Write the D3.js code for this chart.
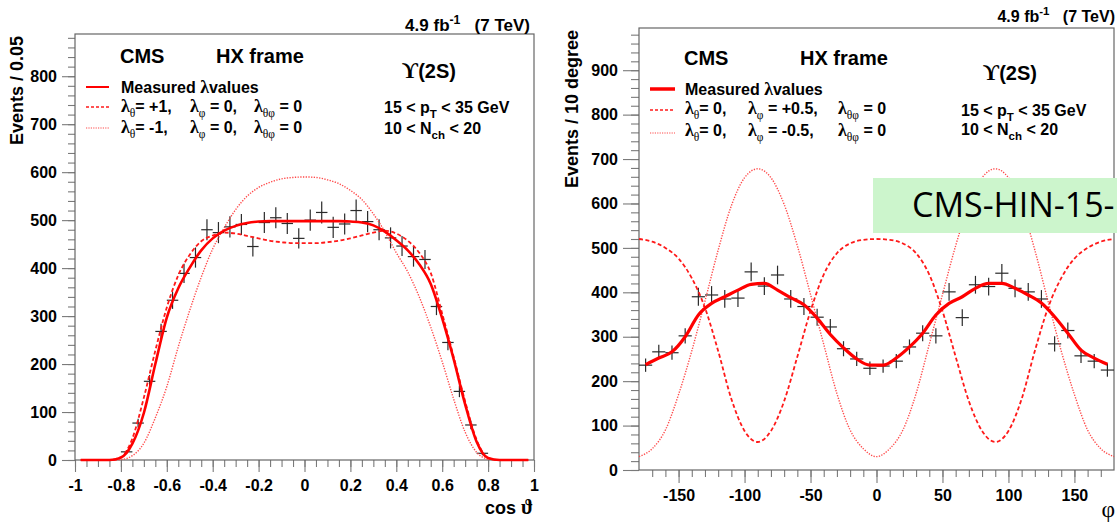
<!DOCTYPE html>
<html>
<head>
<meta charset="utf-8">
<script src="https://cdn.jsdelivr.net/npm/d3@7"></script>
<style>
body { margin: 0; background: #fff; }
svg text { font-family: "Liberation Sans", Arial, sans-serif; font-weight: bold; fill: #000; }
</style>
</head>
<body>
<script>
// left panel: cos theta
var cosBins = [-0.775, -0.725, -0.675, -0.625, -0.575, -0.525, -0.475, -0.425, -0.375, -0.325, -0.275, -0.225, -0.175, -0.125, -0.075, -0.025,
  0.025, 0.075, 0.125, 0.175, 0.225, 0.275, 0.325, 0.375, 0.425, 0.475, 0.525, 0.575, 0.625, 0.675, 0.725, 0.775];
var cosCounts = [17, 77, 164, 268, 333, 389, 422, 480, 474, 486, 491, 445, 495, 505, 493, 462,
  500, 516, 485, 492, 520, 497, 480, 463, 446, 424, 418, 320, 245, 143, 73, 14];
var cosErrs = [4, 9, 13, 16, 18, 20, 21, 22, 22, 22, 22, 21, 22, 22, 22, 21,
  22, 23, 22, 22, 23, 22, 22, 22, 21, 21, 20, 18, 16, 12, 9, 4];

var cosGrid = [-0.975, -0.85, -0.8, -0.75, -0.7, -0.65, -0.6, -0.55, -0.5, -0.45, -0.4, -0.35, -0.3, -0.25, -0.2, -0.15, -0.1, -0.05, 0,
  0.05, 0.1, 0.15, 0.2, 0.25, 0.3, 0.35, 0.4, 0.45, 0.5, 0.55, 0.6, 0.65, 0.7, 0.75, 0.8, 0.85, 0.975];
var cosMeasured = [0, 0, 5, 34, 98, 200, 297, 358, 401, 437, 462, 478, 488, 494, 497, 498, 498, 498, 498,
  498, 498, 498, 497, 495, 489, 476, 458, 437, 408, 367, 295, 210, 116, 38, 4, 0, 0];
var cosPlus = [0, 0, 6, 45, 130, 228, 318, 385, 428, 456, 468, 474, 472, 467, 462, 457, 454, 452, 452,
  452, 454, 457, 462, 468, 474, 478, 472, 457, 432, 390, 305, 215, 122, 42, 4, 0, 0];
var cosMinus = [0, 0, 1, 9, 35, 88, 153, 236, 312, 381, 440, 484, 522, 550, 568, 579, 586, 589, 590,
  589, 584, 576, 562, 543, 513, 476, 432, 392, 340, 277, 205, 127, 58, 16, 2, 0, 0];

var cosTicks = [-1, -0.8, -0.6, -0.4, -0.2, 0, 0.2, 0.4, 0.6, 0.8, 1];
var cosTickLabels = ['-1', '-0.8', '-0.6', '-0.4', '-0.2', '0', '0.2', '0.4', '0.6', '0.8', '1'];
var cosYTicks = [0, 100, 200, 300, 400, 500, 600, 700, 800];
var cosYTickLabels = ['0', '100', '200', '300', '400', '500', '600', '700', '800'];

// right panel: phi
var phiBins = [-175, -165, -155, -145, -135, -125, -115, -105, -95, -85, -75, -65, -55, -45, -35, -25, -15, -5,
  5, 15, 25, 35, 45, 55, 65, 75, 85, 95, 105, 115, 125, 135, 145, 155, 165, 175];
var phiCounts = [236, 266, 264, 302, 390, 394, 385, 387, 446, 414, 439, 385, 368, 344, 322, 273, 250, 229,
  234, 245, 277, 308, 302, 401, 343, 417, 413, 443, 409, 401, 385, 284, 314, 257, 245, 225];
var phiErrs = [15, 16, 16, 17, 20, 20, 20, 20, 21, 20, 21, 20, 19, 19, 18, 17, 16, 15,
  15, 16, 17, 18, 17, 20, 19, 20, 20, 21, 20, 20, 20, 17, 18, 16, 16, 15];
var phiMeasured = [237, 252, 266, 300, 349, 375, 390, 405, 418, 420, 405, 388, 372, 342, 305, 275, 250, 236,
  236, 252, 277, 308, 349, 375, 390, 409, 420, 420, 409, 394, 376, 345, 308, 270, 252, 238];

var phiGrid = [-180, -170, -160, -150, -140, -130, -120, -110, -100, -90, -80, -70, -60, -50, -40, -30, -20, -10, 0,
  10, 20, 30, 40, 50, 60, 70, 80, 90, 100, 110, 120, 130, 140, 150, 160, 170, 180];
var phiPlus = [520, 514, 500, 476, 432, 365, 268, 160, 88, 63, 88, 155, 255, 358, 440, 488, 510, 518, 520,
  518, 510, 488, 440, 358, 255, 155, 88, 63, 88, 160, 268, 365, 432, 476, 500, 514, 520];
var phiMinus = [30, 48, 90, 170, 268, 380, 495, 595, 658, 678, 658, 598, 505, 395, 283, 172, 90, 48, 30,
  48, 90, 172, 283, 395, 505, 598, 658, 678, 658, 595, 495, 380, 268, 170, 90, 48, 30];

var phiTicks = [-150, -100, -50, 0, 50, 100, 150];
var phiTickLabels = ['-150', '-100', '-50', '0', '50', '100', '150'];
var phiYTicks = [0, 100, 200, 300, 400, 500, 600, 700, 800, 900];
var phiYTickLabels = ['0', '100', '200', '300', '400', '500', '600', '700', '800', '900'];

var serif = '"Liberation Serif", "DejaVu Serif", serif';

var svg = d3.select('body').append('svg').attr('width', 1117).attr('height', 525);
svg.append('rect').attr('width', 1117).attr('height', 525).attr('fill', '#fff');

// text with sub/superscripts and greek letters
var rich = function(sel, x, y, size, parts, anchor) {
  var t = sel.append('text').attr('x', x).attr('y', y).attr('font-size', size)
    .attr('text-anchor', anchor || 'start');
  var shift = 0;
  parts.forEach(function(p) {
    var s = p[1] || '';
    var target = s.indexOf('sub') >= 0 ? 0.32 * size : (s.indexOf('sup') >= 0 ? -0.42 * size : 0);
    var ts = t.append('tspan').text(p[0]).attr('dy', target - shift);
    shift = target;
    if (target !== 0) ts.attr('font-size', size * 0.72);
    if (s.indexOf('g') === 0) ts.style('font-family', serif);
    if (s === 'g') ts.attr('font-size', size * 1.12);
    if (s === 'gsub') ts.style('font-weight', 'normal');
  });
  return t;
};

var drawAxes = function(g, x, y, o) {
  var y0 = y.range()[0], x0 = x.range()[0];
  g.append('g').attr('transform', 'translate(0,' + y0 + ')')
    .call(d3.axisBottom(x).tickValues(o.xMinor).tickSize(o.xMinorLen).tickFormat(''));
  g.append('g').attr('transform', 'translate(0,' + y0 + ')')
    .call(d3.axisBottom(x).tickValues(o.xMajor).tickSize(o.xMajorLen).tickPadding(o.xPad)
      .tickFormat(function(d, i) { return o.xLabels[i]; }));
  g.append('g').attr('transform', 'translate(' + x0 + ',0)')
    .call(d3.axisLeft(y).tickValues(o.yMinor).tickSize(o.yMinorLen).tickFormat(''));
  g.append('g').attr('transform', 'translate(' + x0 + ',0)')
    .call(d3.axisLeft(y).tickValues(o.yMajor).tickSize(o.yMajorLen).tickPadding(o.yPad)
      .tickFormat(function(d, i) { return o.yLabels[i]; }));
  g.selectAll('.domain').remove();
  g.selectAll('.tick line').attr('stroke', '#7a7a7a').attr('stroke-width', 1.1);
  g.selectAll('.tick text').attr('font-size', 16).attr('fill', '#000')
    .style('font-family', '"Liberation Sans", Arial, sans-serif').style('font-weight', 'bold');
  g.append('rect')
    .attr('x', x.range()[0]).attr('y', y.range()[1])
    .attr('width', x.range()[1] - x.range()[0]).attr('height', y.range()[0] - y.range()[1])
    .attr('fill', 'none').attr('stroke', '#666').attr('stroke-width', 1.2);
};

var drawPoints = function(g, x, y, bins, counts, errs, half) {
  var pts = g.append('g').selectAll('g').data(bins).enter().append('g');
  pts.append('line')
    .attr('x1', function(d) { return x(d - half); })
    .attr('x2', function(d) { return x(d + half); })
    .attr('y1', function(d, i) { return y(counts[i]); })
    .attr('y2', function(d, i) { return y(counts[i]); })
    .attr('stroke', '#2a2a2a').attr('stroke-width', 1.2);
  pts.append('line')
    .attr('x1', function(d) { return x(d); })
    .attr('x2', function(d) { return x(d); })
    .attr('y1', function(d, i) { return y(counts[i] - errs[i]); })
    .attr('y2', function(d, i) { return y(counts[i] + errs[i]); })
    .attr('stroke', '#2a2a2a').attr('stroke-width', 1.2);
};

var drawCurve = function(g, x, y, xs, vals, style) {
  var line = d3.line()
    .x(function(d, i) { return x(xs[i]); })
    .y(function(d) { return y(d); })
    .curve(d3.curveMonotoneX);
  g.append('path').datum(vals).attr('d', line)
    .attr('fill', 'none').attr('stroke', style.color).attr('stroke-width', style.width)
    .attr('stroke-dasharray', style.dash || null);
};

var solidL = { color: '#ff0000', width: 2.6 };
var solidR = { color: '#ff0000', width: 3.2 };
var dashed = { color: '#ff1a1a', width: 1.8, dash: '4,2.5' };
var dotted = { color: '#ff4a4a', width: 1.4, dash: '1.3,1.4' };

// ---------- left panel ----------
var xL = d3.scaleLinear().domain([-1, 1]).range([75, 534]);
var yL = d3.scaleLinear().domain([0, 888]).range([460, 34]);
var gL = svg.append('g');

drawAxes(gL, xL, yL, {
  xMajor: cosTicks, xLabels: cosTickLabels, xMinor: d3.range(-1, 1.001, 0.05),
  xMajorLen: 12, xMinorLen: 7, xPad: 8,
  yMajor: cosYTicks, yLabels: cosYTickLabels, yMinor: d3.range(0, 881, 20),
  yMajorLen: 13, yMinorLen: 7, yPad: 5
});
drawPoints(gL, xL, yL, cosBins, cosCounts, cosErrs, 0.025);
drawCurve(gL, xL, yL, cosGrid, cosMinus, dotted);
drawCurve(gL, xL, yL, cosGrid, cosPlus, dashed);
drawCurve(gL, xL, yL, cosGrid, cosMeasured, solidL);

gL.append('text').attr('transform', 'translate(23,36) rotate(-90)').attr('text-anchor', 'end')
  .attr('font-size', 18).text('Events / 0.05');
rich(gL, 533, 514, 18, [['cos ', ''], ['\u03D1', 'g']], 'end');
rich(gL, 530, 31, 17, [['4.9 fb', ''], ['-1', 'sup'], ['\u00a0\u00a0\u00a0(7 TeV)', '']], 'end');

gL.append('text').attr('x', 120).attr('y', 63).attr('font-size', 20).text('CMS');
gL.append('text').attr('x', 216).attr('y', 63).attr('font-size', 20).text('HX frame');
rich(gL, 402, 78, 20, [['\u03D2', 'g'], ['(2S)', '']]);

gL.append('line').attr('x1', 86).attr('x2', 109).attr('y1', 87).attr('y2', 87)
  .attr('stroke', '#ff0000').attr('stroke-width', 2);
gL.append('line').attr('x1', 86).attr('x2', 109).attr('y1', 107).attr('y2', 107)
  .attr('stroke', dashed.color).attr('stroke-width', 1.6).attr('stroke-dasharray', '3,2');
gL.append('line').attr('x1', 86).attr('x2', 109).attr('y1', 128).attr('y2', 128)
  .attr('stroke', dotted.color).attr('stroke-width', 1.2).attr('stroke-dasharray', '1.2,1.2');

rich(gL, 121, 93, 16, [['Measured ', ''], ['\u03BB', 'g'], ['values', '']]);
rich(gL, 121, 112, 16, [['\u03BB', 'g'], ['\u03B8', 'gsub'], ['= +1,', '']]);
rich(gL, 190, 112, 16, [['\u03BB', 'g'], ['\u03C6', 'gsub'], [' = 0,', '']]);
rich(gL, 254, 112, 16, [['\u03BB', 'g'], ['\u03B8\u03C6', 'gsub'], [' = 0', '']]);
rich(gL, 121, 133, 16, [['\u03BB', 'g'], ['\u03B8', 'gsub'], ['= -1,', '']]);
rich(gL, 190, 133, 16, [['\u03BB', 'g'], ['\u03C6', 'gsub'], [' = 0,', '']]);
rich(gL, 254, 133, 16, [['\u03BB', 'g'], ['\u03B8\u03C6', 'gsub'], [' = 0', '']]);
rich(gL, 384, 113, 16, [['15 < p', ''], ['T', 'sub'], [' < 35 GeV', '']]);
rich(gL, 384, 134, 16, [['10 < N', ''], ['ch', 'sub'], [' < 20', '']]);

// ---------- right panel ----------
var xR = d3.scaleLinear().domain([-180, 180]).range([639, 1114]);
var yR = d3.scaleLinear().domain([0, 995]).range([470, 28]);
var gR = svg.append('g');

drawAxes(gR, xR, yR, {
  xMajor: phiTicks, xLabels: phiTickLabels, xMinor: d3.range(-170, 171, 10),
  xMajorLen: 13, xMinorLen: 7, xPad: 7,
  yMajor: phiYTicks, yLabels: phiYTickLabels, yMinor: d3.range(0, 981, 20),
  yMajorLen: 16, yMinorLen: 8, yPad: 5
});
drawPoints(gR, xR, yR, phiBins, phiCounts, phiErrs, 5);
drawCurve(gR, xR, yR, phiGrid, phiMinus, dotted);
drawCurve(gR, xR, yR, phiGrid, phiPlus, dashed);
drawCurve(gR, xR, yR, phiBins, phiMeasured, solidR);

gR.append('text').attr('transform', 'translate(578,30) rotate(-90)').attr('text-anchor', 'end')
  .attr('font-size', 18).text('Events / 10 degree');
rich(gR, 1115, 517, 21, [['\u03C6', 'g']], 'end').style('font-weight', 'normal');
rich(gR, 1115, 22, 16, [['4.9 fb', ''], ['-1', 'sup'], ['\u00a0\u00a0\u00a0(7 TeV)', '']], 'end');

gR.append('text').attr('x', 684).attr('y', 65).attr('font-size', 20).text('CMS');
gR.append('text').attr('x', 800).attr('y', 65).attr('font-size', 20).text('HX frame');
rich(gR, 983, 80, 20, [['\u03D2', 'g'], ['(2S)', '']]);

gR.append('line').attr('x1', 650).attr('x2', 675).attr('y1', 89).attr('y2', 89)
  .attr('stroke', '#ff0000').attr('stroke-width', 3.5);
gR.append('line').attr('x1', 650).attr('x2', 675).attr('y1', 110).attr('y2', 110)
  .attr('stroke', dashed.color).attr('stroke-width', 1.4).attr('stroke-dasharray', '3,2');
gR.append('line').attr('x1', 650).attr('x2', 675).attr('y1', 133).attr('y2', 133)
  .attr('stroke', dotted.color).attr('stroke-width', 1.2).attr('stroke-dasharray', '1.2,1.2');

rich(gR, 685, 95, 16, [['Measured ', ''], ['\u03BB', 'g'], ['values', '']]);
rich(gR, 685, 114, 16, [['\u03BB', 'g'], ['\u03B8', 'gsub'], ['= 0,', '']]);
rich(gR, 748, 114, 16, [['\u03BB', 'g'], ['\u03C6', 'gsub'], [' = +0.5,', '']]);
rich(gR, 838, 114, 16, [['\u03BB', 'g'], ['\u03B8\u03C6', 'gsub'], [' = 0', '']]);
rich(gR, 685, 136, 16, [['\u03BB', 'g'], ['\u03B8', 'gsub'], ['= 0,', '']]);
rich(gR, 748, 136, 16, [['\u03BB', 'g'], ['\u03C6', 'gsub'], [' = -0.5,', '']]);
rich(gR, 838, 136, 16, [['\u03BB', 'g'], ['\u03B8\u03C6', 'gsub'], [' = 0', '']]);
rich(gR, 961, 116, 16, [['15 < p', ''], ['T', 'sub'], [' < 35 GeV', '']]);
rich(gR, 961, 135, 16, [['10 < N', ''], ['ch', 'sub'], [' < 20', '']]);

// green label box
svg.append('rect').attr('x', 873).attr('y', 178).attr('width', 260).attr('height', 55).attr('fill', '#ccf5cc');
svg.append('text').attr('x', 912).attr('y', 217).attr('font-size', 34)
  .style('font-family', '"Open Sans", sans-serif').style('font-weight', 'normal').attr('fill', '#111')
  .text('CMS-HIN-15-');
</script>
</body>
</html>
